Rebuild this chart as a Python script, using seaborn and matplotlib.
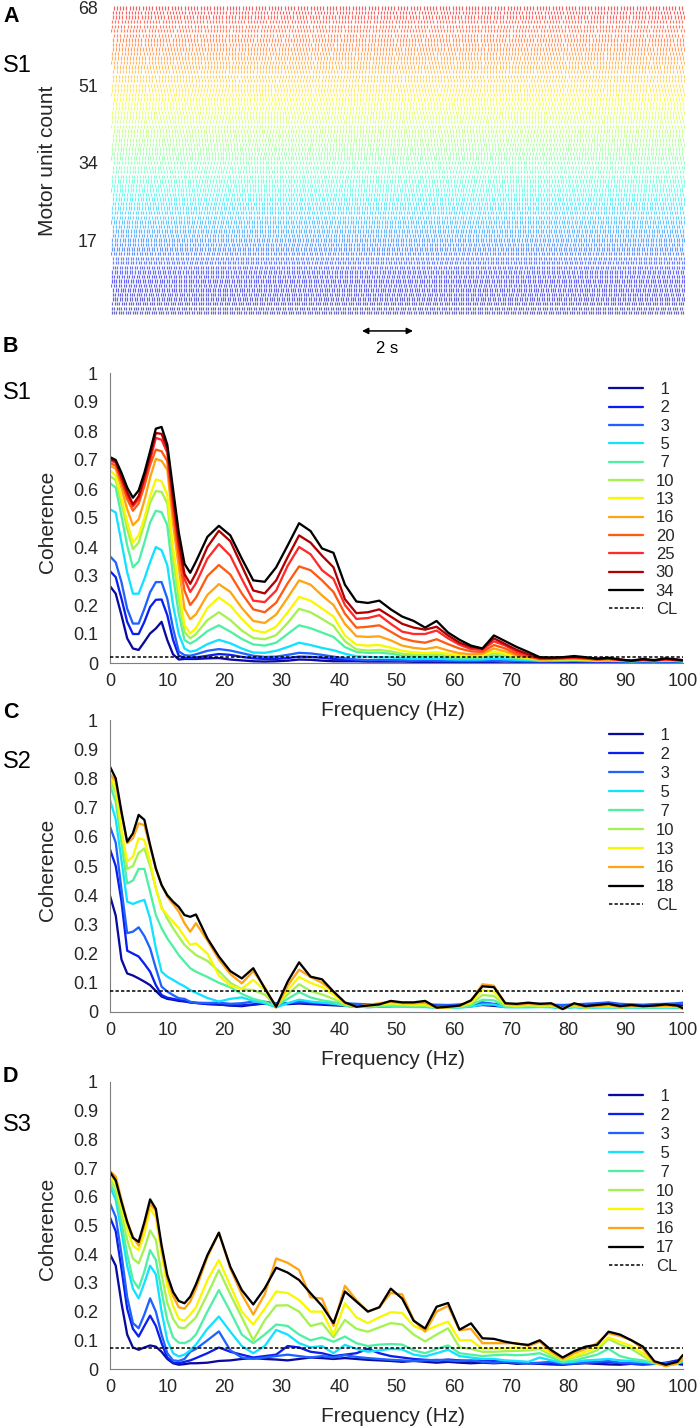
import numpy as np
import pandas as pd
import matplotlib
matplotlib.use("Agg")
import matplotlib.pyplot as plt
from matplotlib.lines import Line2D
import seaborn as sns

sns.set_theme(style="white")
plt.rcParams["font.family"] = ["Liberation Sans", "DejaVu Sans"]

W, H = 700, 1428

# ---------------- panel A: motor unit raster (unit 1 at the bottom) ----------------
RASTER_SECONDS = 22.5
RASTER_TICKS = [17, 34, 51, 68]
UNIT_RATE_HZ = [
    10.8, 10.6, 10.9, 10.4, 10.7, 10.5, 10.2, 10.6, 10.3, 10.1, 10.4, 10.0, 10.2, 9.9, 10.1, 9.8, 9.9,
    9.7, 9.9, 9.6, 9.8, 9.5, 9.7, 9.4, 9.6, 9.3, 9.5, 9.2, 9.4, 9.1, 9.3, 9.0, 9.2, 8.9,
    9.1, 8.9, 9.0, 8.8, 8.9, 8.7, 8.8, 8.6, 8.8, 8.5, 8.7, 8.5, 8.6, 8.4, 8.6, 8.3, 8.5,
    8.3, 8.4, 8.2, 8.4, 8.2, 8.3, 8.1, 8.3, 8.1, 8.2, 8.0, 8.2, 8.0, 8.1, 7.9, 8.1, 7.9,
]

# ---------------- coherence spectra ----------------
FREQ_HZ = [0, 1, 2, 3, 4, 5, 6, 7, 8, 9, 10, 11, 12, 13, 14,
           15, 17, 19, 21, 23, 25, 27, 29, 31, 33, 35, 37, 39, 41, 43, 45, 47, 49, 51, 53, 55, 57,
           59, 61, 63, 65, 67, 69, 71, 73, 75, 77, 79, 81, 83, 85, 87, 89, 91, 93, 95, 97, 99, 100]

# subject S1
S1_1 = [0.265, 0.239, 0.165, 0.085, 0.05, 0.045, 0.073, 0.102, 0.119, 0.142, 0.079, 0.03, 0.012, 0.014, 0.014,
        0.014, 0.016, 0.017, 0.012, 0.009, 0.006, 0.005, 0.006, 0.008, 0.012, 0.011, 0.008, 0.006, 0.006,
        0.006, 0.005, 0.005, 0.005, 0.005, 0.004, 0.004, 0.004, 0.004, 0.004, 0.004, 0.004, 0.004, 0.005,
        0.004, 0.004, 0.003, 0.003, 0.003, 0.004, 0.004, 0.003, 0.003, 0.004, 0.003, 0.003, 0.003, 0.003, 0.003,
        0.003]
S1_2 = [0.317, 0.296, 0.222, 0.142, 0.10, 0.10, 0.142, 0.193, 0.218, 0.219, 0.165, 0.08, 0.025, 0.018, 0.018,
        0.019, 0.025, 0.031, 0.028, 0.021, 0.016, 0.014, 0.014, 0.017, 0.022, 0.021, 0.018, 0.014, 0.011,
        0.009, 0.009, 0.008, 0.008, 0.008, 0.007, 0.007, 0.007, 0.006, 0.006, 0.006, 0.006, 0.006, 0.007,
        0.006, 0.006, 0.005, 0.005, 0.005, 0.006, 0.006, 0.005, 0.005, 0.006, 0.004, 0.005, 0.005, 0.005, 0.005,
        0.004]
S1_3 = [0.368, 0.347, 0.279, 0.187, 0.136, 0.136, 0.187, 0.244, 0.279, 0.279, 0.222, 0.12, 0.04, 0.027, 0.025,
        0.03, 0.042, 0.048, 0.043, 0.034, 0.025, 0.021, 0.022, 0.028, 0.035, 0.033, 0.028, 0.022, 0.016,
        0.012, 0.01, 0.011, 0.01, 0.009, 0.008, 0.009, 0.008, 0.008, 0.007, 0.007, 0.008, 0.008, 0.007,
        0.007, 0.006, 0.006, 0.006, 0.007, 0.007, 0.006, 0.006, 0.006, 0.005, 0.006, 0.006, 0.006, 0.005, 0.005,
        0.005]
S1_5 = [0.53, 0.519, 0.416, 0.313, 0.239, 0.239, 0.29, 0.348, 0.40, 0.389, 0.337, 0.20, 0.10, 0.05, 0.039,
        0.043, 0.065, 0.08, 0.068, 0.05, 0.036, 0.035, 0.042, 0.055, 0.07, 0.062, 0.052, 0.044, 0.032,
        0.023, 0.021, 0.02, 0.019, 0.017, 0.015, 0.015, 0.015, 0.013, 0.012, 0.012, 0.012, 0.015, 0.013,
        0.011, 0.01, 0.008, 0.008, 0.008, 0.009, 0.008, 0.007, 0.008, 0.007, 0.006, 0.007, 0.006, 0.007, 0.007,
        0.006]
S1_7 = [0.62, 0.605, 0.507, 0.405, 0.33, 0.35, 0.415, 0.485, 0.525, 0.52, 0.475, 0.30, 0.17, 0.079, 0.067,
        0.078, 0.11, 0.13, 0.108, 0.083, 0.064, 0.06, 0.07, 0.1, 0.13, 0.12, 0.105, 0.09, 0.055,
        0.038, 0.035, 0.036, 0.032, 0.026, 0.024, 0.022, 0.024, 0.02, 0.017, 0.017, 0.019, 0.025, 0.022,
        0.016, 0.013, 0.009, 0.01, 0.01, 0.011, 0.01, 0.008, 0.009, 0.008, 0.006, 0.007, 0.007, 0.008, 0.007,
        0.006]
S1_10 = [0.645, 0.63, 0.55, 0.462, 0.393, 0.415, 0.48, 0.553, 0.593, 0.59, 0.55, 0.36, 0.22, 0.107, 0.085,
         0.1, 0.148, 0.175, 0.148, 0.112, 0.086, 0.082, 0.096, 0.138, 0.187, 0.175, 0.152, 0.128, 0.075,
         0.047, 0.043, 0.045, 0.04, 0.032, 0.029, 0.028, 0.03, 0.025, 0.021, 0.021, 0.023, 0.033, 0.027,
         0.019, 0.015, 0.01, 0.011, 0.012, 0.012, 0.011, 0.009, 0.01, 0.009, 0.007, 0.008, 0.007, 0.009, 0.008,
         0.007]
S1_13 = [0.665, 0.645, 0.57, 0.485, 0.415, 0.44, 0.50, 0.575, 0.633, 0.627, 0.58, 0.40, 0.26, 0.13, 0.102,
         0.12, 0.19, 0.226, 0.198, 0.152, 0.113, 0.105, 0.125, 0.175, 0.228, 0.215, 0.188, 0.16, 0.095,
         0.063, 0.06, 0.062, 0.053, 0.042, 0.037, 0.035, 0.037, 0.032, 0.027, 0.026, 0.027, 0.04, 0.032,
         0.022, 0.018, 0.012, 0.012, 0.013, 0.013, 0.012, 0.01, 0.011, 0.009, 0.007, 0.008, 0.007, 0.01, 0.008,
         0.007]
S1_16 = [0.68, 0.67, 0.605, 0.53, 0.475, 0.495, 0.56, 0.64, 0.704, 0.697, 0.667, 0.48, 0.33, 0.187, 0.151,
         0.168, 0.235, 0.272, 0.245, 0.19, 0.145, 0.138, 0.167, 0.225, 0.285, 0.27, 0.233, 0.2, 0.135,
         0.092, 0.09, 0.092, 0.078, 0.06, 0.052, 0.048, 0.055, 0.043, 0.034, 0.03, 0.032, 0.05, 0.04,
         0.026, 0.02, 0.012, 0.013, 0.014, 0.015, 0.013, 0.011, 0.012, 0.009, 0.007, 0.009, 0.007, 0.011, 0.008,
         0.007]
S1_20 = [0.69, 0.68, 0.625, 0.565, 0.525, 0.55, 0.61, 0.683, 0.736, 0.73, 0.696, 0.52, 0.37, 0.25, 0.20,
         0.225, 0.30, 0.338, 0.305, 0.24, 0.185, 0.175, 0.208, 0.275, 0.333, 0.32, 0.285, 0.245, 0.17,
         0.122, 0.125, 0.13, 0.108, 0.085, 0.075, 0.07, 0.082, 0.065, 0.05, 0.04, 0.038, 0.062, 0.05,
         0.03, 0.022, 0.014, 0.014, 0.016, 0.017, 0.015, 0.012, 0.014, 0.01, 0.007, 0.01, 0.008, 0.012, 0.009,
         0.008]
S1_25 = [0.70, 0.69, 0.633, 0.58, 0.54, 0.565, 0.63, 0.70, 0.776, 0.77, 0.725, 0.55, 0.40, 0.29, 0.245,
         0.275, 0.36, 0.41, 0.37, 0.29, 0.215, 0.21, 0.25, 0.335, 0.40, 0.375, 0.32, 0.29, 0.2,
         0.152, 0.155, 0.165, 0.135, 0.108, 0.1, 0.1, 0.112, 0.085, 0.063, 0.048, 0.045, 0.075, 0.06,
         0.038, 0.026, 0.015, 0.015, 0.017, 0.019, 0.016, 0.013, 0.015, 0.011, 0.008, 0.011, 0.009, 0.013, 0.01,
         0.008]
S1_30 = [0.704, 0.695, 0.642, 0.59, 0.547, 0.575, 0.64, 0.713, 0.793, 0.79, 0.74, 0.57, 0.42, 0.307, 0.273,
         0.31, 0.40, 0.456, 0.42, 0.335, 0.25, 0.24, 0.285, 0.365, 0.44, 0.415, 0.37, 0.33, 0.22,
         0.172, 0.175, 0.185, 0.16, 0.135, 0.122, 0.115, 0.125, 0.095, 0.07, 0.055, 0.05, 0.085, 0.065,
         0.045, 0.03, 0.017, 0.017, 0.019, 0.021, 0.018, 0.014, 0.016, 0.012, 0.008, 0.012, 0.009, 0.014, 0.011,
         0.009]
S1_34 = [0.71, 0.70, 0.656, 0.605, 0.57, 0.595, 0.656, 0.73, 0.808, 0.814, 0.753, 0.60, 0.45, 0.342, 0.311,
         0.35, 0.435, 0.473, 0.44, 0.36, 0.285, 0.28, 0.33, 0.405, 0.482, 0.455, 0.395, 0.38, 0.27,
         0.212, 0.207, 0.215, 0.185, 0.16, 0.145, 0.122, 0.145, 0.105, 0.08, 0.06, 0.05, 0.095, 0.075,
         0.055, 0.038, 0.02, 0.019, 0.02, 0.024, 0.02, 0.015, 0.018, 0.012, 0.008, 0.014, 0.01, 0.016, 0.012,
         0.01]
S1_CL = 0.02

# subject S2
S2_1 = [0.398, 0.33, 0.18, 0.132, 0.125, 0.115, 0.104, 0.092, 0.072, 0.053, 0.045, 0.042, 0.038, 0.036, 0.033,
        0.031, 0.027, 0.026, 0.022, 0.02, 0.025, 0.029, 0.028, 0.027, 0.029, 0.027, 0.025, 0.023, 0.021,
        0.019, 0.017, 0.018, 0.02, 0.022, 0.02, 0.018, 0.017, 0.016, 0.018, 0.02, 0.024, 0.021, 0.018,
        0.018, 0.018, 0.019, 0.018, 0.016, 0.018, 0.02, 0.022, 0.024, 0.02, 0.018, 0.017, 0.018, 0.02, 0.021,
        0.022]
S2_2 = [0.557, 0.50, 0.38, 0.21, 0.20, 0.19, 0.165, 0.138, 0.092, 0.058, 0.049, 0.045, 0.041, 0.038, 0.033,
        0.031, 0.028, 0.025, 0.023, 0.023, 0.026, 0.03, 0.03, 0.03, 0.032, 0.03, 0.028, 0.027, 0.026,
        0.025, 0.023, 0.024, 0.025, 0.027, 0.025, 0.024, 0.023, 0.022, 0.024, 0.026, 0.03, 0.026, 0.023,
        0.024, 0.024, 0.025, 0.023, 0.022, 0.024, 0.025, 0.028, 0.03, 0.026, 0.024, 0.023, 0.024, 0.026, 0.027,
        0.03]
S2_3 = [0.635, 0.58, 0.42, 0.27, 0.275, 0.29, 0.26, 0.218, 0.15, 0.087, 0.07, 0.058, 0.047, 0.045, 0.035,
        0.032, 0.031, 0.032, 0.028, 0.03, 0.036, 0.035, 0.03, 0.03, 0.035, 0.033, 0.031, 0.031, 0.03,
        0.028, 0.026, 0.025, 0.027, 0.03, 0.028, 0.026, 0.025, 0.024, 0.026, 0.03, 0.033, 0.028, 0.025,
        0.027, 0.026, 0.028, 0.025, 0.024, 0.026, 0.028, 0.03, 0.033, 0.028, 0.026, 0.025, 0.027, 0.028, 0.03,
        0.032]
S2_5 = [0.726, 0.66, 0.52, 0.378, 0.37, 0.378, 0.384, 0.32, 0.218, 0.138, 0.121, 0.11, 0.098, 0.088, 0.075,
        0.066, 0.048, 0.036, 0.045, 0.05, 0.038, 0.03, 0.016, 0.03, 0.042, 0.036, 0.032, 0.028, 0.022,
        0.018, 0.017, 0.018, 0.019, 0.018, 0.017, 0.017, 0.014, 0.014, 0.015, 0.018, 0.026, 0.025, 0.016,
        0.016, 0.016, 0.017, 0.016, 0.012, 0.016, 0.013, 0.015, 0.015, 0.014, 0.015, 0.014, 0.014, 0.015, 0.014,
        0.012]
S2_7 = [0.777, 0.72, 0.58, 0.44, 0.45, 0.49, 0.49, 0.412, 0.332, 0.287, 0.252, 0.224, 0.195, 0.172, 0.15,
        0.138, 0.12, 0.1, 0.085, 0.062, 0.045, 0.035, 0.02, 0.045, 0.068, 0.05, 0.04, 0.034, 0.022,
        0.017, 0.018, 0.02, 0.021, 0.02, 0.019, 0.02, 0.015, 0.015, 0.016, 0.022, 0.042, 0.04, 0.019,
        0.017, 0.019, 0.018, 0.019, 0.013, 0.019, 0.014, 0.017, 0.017, 0.015, 0.016, 0.016, 0.015, 0.017, 0.016,
        0.013]
S2_10 = [0.795, 0.75, 0.62, 0.49, 0.50, 0.545, 0.56, 0.50, 0.424, 0.36, 0.32, 0.287, 0.258, 0.23, 0.212,
         0.195, 0.175, 0.14, 0.1, 0.078, 0.075, 0.06, 0.02, 0.06, 0.095, 0.072, 0.06, 0.045, 0.026,
         0.018, 0.02, 0.023, 0.025, 0.024, 0.022, 0.022, 0.015, 0.016, 0.018, 0.028, 0.058, 0.055, 0.022,
         0.019, 0.022, 0.02, 0.021, 0.013, 0.021, 0.015, 0.019, 0.019, 0.016, 0.018, 0.017, 0.017, 0.019, 0.017,
         0.014]
S2_13 = [0.808, 0.77, 0.62, 0.515, 0.532, 0.595, 0.589, 0.515, 0.424, 0.355, 0.332, 0.309, 0.287, 0.258, 0.23,
         0.235, 0.2, 0.125, 0.09, 0.08, 0.11, 0.075, 0.018, 0.075, 0.12, 0.1, 0.085, 0.06, 0.028,
         0.018, 0.022, 0.026, 0.03, 0.027, 0.025, 0.026, 0.015, 0.016, 0.019, 0.032, 0.075, 0.07, 0.025,
         0.021, 0.025, 0.022, 0.023, 0.012, 0.024, 0.016, 0.02, 0.021, 0.016, 0.019, 0.017, 0.018, 0.02, 0.018,
         0.014]
S2_16 = [0.815, 0.79, 0.68, 0.578, 0.595, 0.646, 0.64, 0.565, 0.49, 0.435, 0.395, 0.37, 0.344, 0.304, 0.275,
         0.304, 0.245, 0.18, 0.13, 0.098, 0.14, 0.085, 0.015, 0.09, 0.145, 0.12, 0.1, 0.07, 0.03,
         0.018, 0.024, 0.03, 0.035, 0.03, 0.03, 0.032, 0.014, 0.016, 0.02, 0.038, 0.095, 0.09, 0.028,
         0.024, 0.028, 0.025, 0.026, 0.01, 0.026, 0.016, 0.02, 0.024, 0.016, 0.02, 0.018, 0.019, 0.022, 0.019,
         0.012]
S2_18 = [0.84, 0.80, 0.686, 0.583, 0.612, 0.675, 0.658, 0.572, 0.492, 0.435, 0.40, 0.378, 0.36, 0.332, 0.326,
         0.334, 0.252, 0.19, 0.14, 0.115, 0.15, 0.081, 0.018, 0.104, 0.17, 0.121, 0.112, 0.07, 0.033,
         0.018, 0.022, 0.026, 0.038, 0.033, 0.033, 0.038, 0.015, 0.018, 0.022, 0.04, 0.088, 0.085, 0.03,
         0.028, 0.032, 0.028, 0.03, 0.01, 0.03, 0.02, 0.024, 0.028, 0.02, 0.024, 0.02, 0.022, 0.026, 0.022,
         0.013]
S2_CL = 0.073

# subject S3
S3_1 = [0.40, 0.36, 0.23, 0.12, 0.075, 0.067, 0.075, 0.082, 0.078, 0.06, 0.035, 0.02, 0.015, 0.017, 0.02,
        0.02, 0.022, 0.028, 0.03, 0.035, 0.038, 0.035, 0.033, 0.03, 0.035, 0.04, 0.038, 0.035, 0.038,
        0.035, 0.032, 0.03, 0.028, 0.025, 0.028, 0.025, 0.022, 0.025, 0.022, 0.02, 0.022, 0.02, 0.022,
        0.018, 0.02, 0.018, 0.016, 0.015, 0.018, 0.02, 0.018, 0.016, 0.015, 0.018, 0.016, 0.018, 0.02, 0.018,
        0.015]
S3_2 = [0.528, 0.48, 0.35, 0.21, 0.14, 0.113, 0.15, 0.186, 0.15, 0.09, 0.04, 0.022, 0.02, 0.025, 0.03,
        0.038, 0.055, 0.075, 0.06, 0.05, 0.04, 0.045, 0.05, 0.08, 0.075, 0.06, 0.055, 0.045, 0.05,
        0.055, 0.07, 0.055, 0.045, 0.04, 0.035, 0.032, 0.03, 0.033, 0.03, 0.028, 0.03, 0.028, 0.025,
        0.022, 0.02, 0.02, 0.018, 0.016, 0.02, 0.022, 0.02, 0.025, 0.02, 0.018, 0.016, 0.018, 0.022, 0.03,
        0.02]
S3_3 = [0.577, 0.53, 0.40, 0.25, 0.16, 0.142, 0.19, 0.246, 0.20, 0.12, 0.055, 0.03, 0.028, 0.035, 0.06,
        0.07, 0.1, 0.131, 0.065, 0.04, 0.035, 0.04, 0.045, 0.05, 0.045, 0.04, 0.045, 0.04, 0.048,
        0.042, 0.038, 0.035, 0.032, 0.03, 0.028, 0.03, 0.032, 0.03, 0.028, 0.03, 0.025, 0.022, 0.025,
        0.022, 0.02, 0.022, 0.025, 0.018, 0.02, 0.022, 0.025, 0.028, 0.022, 0.02, 0.02, 0.018, 0.02, 0.025,
        0.022]
S3_5 = [0.635, 0.59, 0.48, 0.36, 0.28, 0.246, 0.30, 0.36, 0.33, 0.20, 0.10, 0.055, 0.044, 0.05, 0.065,
        0.085, 0.14, 0.183, 0.13, 0.08, 0.055, 0.08, 0.136, 0.12, 0.09, 0.075, 0.08, 0.055, 0.084,
        0.07, 0.06, 0.065, 0.07, 0.068, 0.05, 0.044, 0.055, 0.067, 0.045, 0.04, 0.035, 0.035, 0.03,
        0.028, 0.025, 0.04, 0.03, 0.022, 0.025, 0.03, 0.032, 0.035, 0.03, 0.028, 0.025, 0.02, 0.015, 0.02,
        0.025]
S3_7 = [0.647, 0.61, 0.51, 0.40, 0.31, 0.281, 0.34, 0.414, 0.38, 0.27, 0.17, 0.11, 0.092, 0.09, 0.10,
        0.12, 0.2, 0.275, 0.2, 0.12, 0.09, 0.12, 0.155, 0.15, 0.12, 0.1, 0.11, 0.095, 0.113,
        0.09, 0.08, 0.085, 0.087, 0.085, 0.065, 0.055, 0.07, 0.082, 0.055, 0.05, 0.045, 0.048, 0.05,
        0.048, 0.05, 0.055, 0.04, 0.025, 0.03, 0.04, 0.05, 0.07, 0.045, 0.035, 0.03, 0.02, 0.012, 0.018,
        0.03]
S3_10 = [0.66, 0.63, 0.54, 0.45, 0.385, 0.368, 0.42, 0.483, 0.45, 0.33, 0.23, 0.175, 0.145, 0.142, 0.16,
         0.18, 0.26, 0.345, 0.26, 0.18, 0.1, 0.17, 0.221, 0.222, 0.2, 0.15, 0.16, 0.11, 0.171,
         0.14, 0.13, 0.145, 0.16, 0.155, 0.12, 0.096, 0.12, 0.142, 0.075, 0.07, 0.06, 0.06, 0.062,
         0.063, 0.065, 0.07, 0.048, 0.03, 0.04, 0.05, 0.065, 0.105, 0.085, 0.07, 0.045, 0.022, 0.012, 0.018,
         0.035]
S3_13 = [0.675, 0.645, 0.565, 0.49, 0.43, 0.414, 0.47, 0.558, 0.53, 0.40, 0.29, 0.22, 0.175, 0.168, 0.19,
         0.215, 0.31, 0.38, 0.29, 0.2, 0.155, 0.21, 0.27, 0.265, 0.24, 0.2, 0.2, 0.12, 0.229,
         0.18, 0.16, 0.18, 0.198, 0.195, 0.15, 0.133, 0.15, 0.165, 0.1, 0.1, 0.07, 0.07, 0.072,
         0.075, 0.07, 0.075, 0.055, 0.035, 0.045, 0.06, 0.075, 0.11, 0.095, 0.08, 0.055, 0.022, 0.012, 0.02,
         0.04]
S3_16 = [0.69, 0.67, 0.59, 0.515, 0.46, 0.43, 0.50, 0.575, 0.55, 0.42, 0.315, 0.255, 0.215, 0.21, 0.235,
         0.28, 0.39, 0.475, 0.35, 0.26, 0.19, 0.26, 0.385, 0.37, 0.345, 0.25, 0.245, 0.15, 0.29,
         0.24, 0.2, 0.215, 0.265, 0.26, 0.17, 0.13, 0.2, 0.22, 0.135, 0.14, 0.09, 0.09, 0.09,
         0.09, 0.08, 0.095, 0.06, 0.035, 0.055, 0.07, 0.09, 0.125, 0.115, 0.1, 0.07, 0.022, 0.01, 0.02,
         0.035]
S3_17 = [0.686, 0.657, 0.582, 0.512, 0.457, 0.443, 0.512, 0.591, 0.558, 0.431, 0.327, 0.269, 0.237, 0.229, 0.252,
         0.295, 0.397, 0.475, 0.356, 0.275, 0.225, 0.281, 0.353, 0.336, 0.31, 0.264, 0.22, 0.16, 0.27,
         0.235, 0.2, 0.215, 0.28, 0.245, 0.168, 0.141, 0.217, 0.23, 0.137, 0.159, 0.107, 0.105, 0.095,
         0.088, 0.084, 0.1, 0.066, 0.04, 0.062, 0.078, 0.084, 0.13, 0.12, 0.1, 0.078, 0.027, 0.015, 0.025,
         0.049]
S3_CL = 0.073

S1_LABELS = ["1", "2", "3", "5", "7", "10", "13", "16", "20", "25", "30", "34"]
S2_LABELS = ["1", "2", "3", "5", "7", "10", "13", "16", "18"]
S3_LABELS = ["1", "2", "3", "5", "7", "10", "13", "16", "17"]

MU_COLORS = ["#0a0a9e", "#0a1ef0", "#1f62ff", "#12e2ff", "#50f0a4", "#a4f252",
             "#f8f800", "#ffa412", "#ff5a12", "#ff2a2a", "#b00000"]

fig = plt.figure(figsize=(W / 100, H / 100), dpi=100)


def px_axes(left, top, right, bottom):
    return fig.add_axes([left / W, 1 - bottom / H, (right - left) / W, (bottom - top) / H])


def fig_text(x, y, s, **kw):
    fig.text(x / W, 1 - y / H, s, va="center", ha="left", color="black", **kw)


# ---------------- A: raster ----------------
axA = px_axes(111, 4.8, 685, 316)
units = np.arange(1, len(UNIT_RATE_HZ) + 1)
trains = [np.arange(((u % 7) + 0.5) / 7.0 / r, RASTER_SECONDS, 1.0 / r)
          for u, r in zip(units, UNIT_RATE_HZ)]
jet = plt.get_cmap("jet")
row_colors = [jet(0.02 + 0.9 * (u - 1) / (len(units) - 1)) for u in units]
axA.eventplot(trains, lineoffsets=units, linelengths=0.74, linewidths=0.9,
              colors=row_colors, alpha=0.6)
axA.set_xlim(0, RASTER_SECONDS)
axA.set_ylim(0.3, 68.7)
axA.set_xticks([])
axA.set_yticks(RASTER_TICKS)
axA.tick_params(axis="y", length=0, pad=9.5, labelsize=12.8, labelcolor="#262626")
for s in axA.spines.values():
    s.set_visible(False)
axA.set_ylabel("Motor unit count", fontsize=15, color="#262626")
axA.yaxis.set_label_coords((57.5 - 111) / 574, 0.5)
# 2 s scale bar
t0 = (362 - 111) / 574 * RASTER_SECONDS
axA.annotate("", xy=(t0 + 2.0, -0.048), xytext=(t0, -0.048),
             xycoords=("data", "axes fraction"), textcoords=("data", "axes fraction"),
             arrowprops=dict(arrowstyle="<|-|>", color="black", lw=1.1,
                             mutation_scale=9, shrinkA=0, shrinkB=0),
             annotation_clip=False)
axA.text(t0 + 1.0, -0.106, "2 s", transform=axA.get_xaxis_transform(),
         ha="center", va="center", fontsize=12, color="black")

fig_text(3, 16, "A", fontsize=15.5, fontweight="bold")
fig_text(3, 66, "S1", fontsize=17)

# ---------------- B, C, D: coherence ----------------
panels = [
    ("B", "S1", (373, 663), S1_LABELS,
     [S1_1, S1_2, S1_3, S1_5, S1_7, S1_10, S1_13, S1_16, S1_20, S1_25, S1_30, S1_34], S1_CL,
     (347, 393), 0.2, 9),
    ("C", "S2", (720, 1012), S2_LABELS,
     [S2_1, S2_2, S2_3, S2_5, S2_7, S2_10, S2_13, S2_16, S2_18], S2_CL,
     (712, 762), 0.235, 8),
    ("D", "S3", (1082, 1369), S3_LABELS,
     [S3_1, S3_2, S3_3, S3_5, S3_7, S3_10, S3_13, S3_16, S3_17], S3_CL,
     (1077, 1125), 0.235, 7),
]

for letter, subj, (top, bottom), labels, series, cl, (ly, sy), lspace, ltop in panels:
    ax = px_axes(110, top, 683, bottom)
    rows = []
    for lab, vals in zip(labels, series):
        if len(vals) != len(FREQ_HZ):
            raise ValueError(f"{subj} {lab}: {len(vals)} values")
        rows += [(f, v, lab) for f, v in zip(FREQ_HZ, vals)]
    df = pd.DataFrame(rows, columns=["freq", "coherence", "units"])
    palette = dict(zip(labels, MU_COLORS[:len(labels) - 1] + ["black"]))
    sns.lineplot(data=df, x="freq", y="coherence", hue="units", hue_order=labels,
                 palette=palette, linewidth=1.65, errorbar=None, sort=False,
                 legend=False, ax=ax)
    ax.axhline(cl, color="black", lw=1.1, ls=(0, (2.2, 1.4)), zorder=5)

    ax.set_xlim(0, 100)
    ax.set_ylim(0, 1)
    ax.set_xticks(np.arange(0, 101, 10))
    yt = np.round(np.arange(0, 1.01, 0.1), 1)
    ax.set_yticks(yt)
    ax.set_yticklabels([f"{t:g}" for t in yt])
    ax.tick_params(direction="in", length=3.5, width=0.8, color="#7f7f7f",
                   labelsize=13, labelcolor="#262626")
    ax.tick_params(axis="y", pad=8.6)
    ax.tick_params(axis="x", pad=7)
    for side in ("top", "right"):
        ax.spines[side].set_visible(False)
    for side in ("left", "bottom"):
        ax.spines[side].set_color("#7f7f7f")
        ax.spines[side].set_linewidth(0.8)
    ax.set_xlabel("Frequency (Hz)", fontsize=15, color="#262626")
    ax.set_ylabel("Coherence", fontsize=15, color="#262626")
    ax.xaxis.set_label_coords(0.494, -38 / (bottom - top))
    ax.yaxis.set_label_coords((57.5 - 110) / 573, 0.488)

    handles = [Line2D([], [], color=palette[l], lw=1.65) for l in labels]
    handles.append(Line2D([], [], color="black", lw=1.1, ls=(0, (2.2, 1.4))))
    names = [(" " + l if len(l) == 1 else l) for l in labels] + ["CL"]
    ax.legend(handles, names, loc="upper left",
              bbox_to_anchor=((609 - 110) / 573, (bottom - (top + ltop)) / (bottom - top)),
              frameon=False, fontsize=12, handlelength=2.05, handletextpad=0.75,
              labelspacing=lspace, borderaxespad=0, borderpad=0)

    fig_text(3, ly, letter, fontsize=15.5, fontweight="bold")
    fig_text(3, sy, subj, fontsize=17)

fig.savefig("out.png", dpi=100)
